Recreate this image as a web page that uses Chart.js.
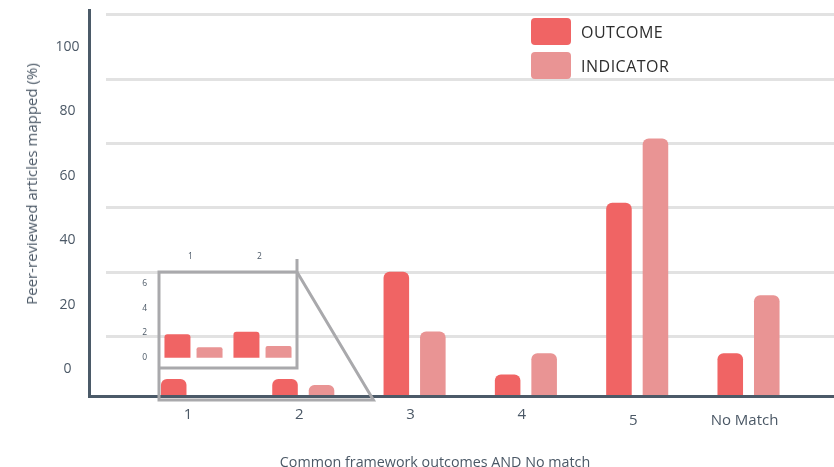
<!DOCTYPE html>
<html>
<head>
<meta charset="utf-8">
<script src="https://cdn.jsdelivr.net/npm/chart.js@4.4.1/dist/chart.umd.min.js"></script>
<style>
  html, body { margin: 0; padding: 0; background: #fff; }
  #wrap { position: relative; width: 834px; height: 467px; overflow: hidden; font-family: "Open Sans", sans-serif; }
  #main { position: absolute; left: 0; top: 0; }
  #inset { position: absolute; left: 125px; top: 240px; }
  .ytitle { position: absolute; left: 31px; top: 184px; transform: translate(-50%, -50%) rotate(-90deg);
            white-space: nowrap; font-size: 15px; color: #4b5866; }
  .xtitle { position: absolute; left: 435px; top: 461px; transform: translate(-50%, -50%);
            white-space: nowrap; font-size: 14.3px; color: #4b5866; }
  #legend { position: absolute; left: 531px; top: 18px; }
  .item { display: flex; align-items: center; height: 27px; margin-bottom: 7px; }
  .swatch { width: 40px; height: 27px; border-radius: 4px; margin-right: 10px; }
  .lbl { font-size: 16px; letter-spacing: 0.5px; color: #2d2d2d; }
</style>
</head>
<body>
<div id="wrap">
  <canvas id="main" width="834" height="467"></canvas>
  <canvas id="inset" width="180" height="135"></canvas>
  <div class="ytitle">Peer-reviewed articles mapped (%)</div>
  <div class="xtitle">Common framework outcomes AND No match</div>
  <div id="legend"></div>
</div>
<script>
// Framework categories and the share of articles mapped to each
const CATEGORIES = ['1', '2', '3', '4', '5', 'No Match'];
const OUTCOME    = [-3.1, -3.1, 30.2, -1.7, 51.6, 4.9];
const INDICATOR  = [null, -5.0, 11.6, 4.9, 71.6, 22.9];
const Y_TICKS    = [0, 20, 40, 60, 80, 100];

// Magnified view of categories 1 and 2
const INSET_CATEGORIES = ['1', '2'];
const INSET_OUTCOME    = [1.9, 2.1];
const INSET_INDICATOR  = [0.85, 0.95];
const INSET_TICKS      = [0, 2, 4, 6];

const AXIS_FLOOR = -8.4;
const C_OUTCOME = '#f06464';
const C_INDICATOR = '#e99494';
const AXIS_COLOR = '#4b5a68';
const GRID_COLOR = '#e2e2e2';
const TEXT_COLOR = '#4b5866';
const CALLOUT_COLOR = '#a9a9ac';

// inset frame in page coordinates
const INSET_BOX = { left: 159, top: 272, right: 297, bottom: 368 };

// axes sized exactly, without the extra room Chart.js keeps for edge labels
const fixedSize = (prop, size) => s => {
  s[prop] = size;
  s.paddingTop = 0; s.paddingBottom = 0; s.paddingLeft = 0; s.paddingRight = 0;
};

// leaves a small gap between the y axis line and the grid lines
const gridGap = {
  id: 'gridGap',
  beforeDatasetsDraw(chart) {
    const { ctx, chartArea: a } = chart;
    ctx.save();
    ctx.fillStyle = '#fff';
    ctx.fillRect(a.left + 1.5, a.top - 2, 15.5, a.bottom - a.top);
    ctx.restore();
  }
};

// frame around the magnified region and its pointer to the small bars
const callout = {
  id: 'callout',
  afterDraw(chart) {
    const { ctx, chartArea: a } = chart;
    const b = INSET_BOX;
    const outerBottom = a.bottom + 4;
    const tipX = chart.scales.x.getPixelForValue(1.63);
    ctx.save();
    ctx.strokeStyle = CALLOUT_COLOR;
    ctx.lineWidth = 3;
    ctx.beginPath();
    ctx.moveTo(b.right, b.top);
    ctx.lineTo(b.left, b.top);
    ctx.lineTo(b.left, outerBottom);
    ctx.lineTo(tipX, outerBottom);
    ctx.lineTo(b.right, b.top);
    ctx.stroke();
    ctx.beginPath();
    ctx.moveTo(b.left, b.bottom);
    ctx.lineTo(b.right, b.bottom);
    ctx.lineTo(b.right, b.top - 13);
    ctx.stroke();
    ctx.restore();
  }
};

const toPoints = arr => arr.map((v, i) => ({ x: i, y: v }));

const mainChart = new Chart(document.getElementById('main'), {
  type: 'bar',
  data: {
    datasets: [
      { label: 'OUTCOME', data: toPoints(OUTCOME), backgroundColor: C_OUTCOME,
        base: AXIS_FLOOR, borderRadius: 6, borderSkipped: 'start',
        categoryPercentage: 0.656, barPercentage: 0.7 },
      { label: 'INDICATOR', data: toPoints(INDICATOR), backgroundColor: C_INDICATOR,
        base: AXIS_FLOOR, borderRadius: 6, borderSkipped: 'start',
        categoryPercentage: 0.656, barPercentage: 0.7 }
    ]
  },
  options: {
    responsive: false,
    animation: false,
    devicePixelRatio: 1,
    layout: { padding: { top: 10, left: 0, right: 0, bottom: 0 } },
    plugins: { legend: { display: false }, tooltip: { enabled: false } },
    scales: {
      x: {
        type: 'linear',
        min: -0.925,
        max: 5.768,
        offset: false,
        afterBuildTicks: s => { s.ticks = CATEGORIES.map((_, i) => ({ value: i })); },
        afterFit: fixedSize('height', 71),
        grid: { display: false, drawTicks: false },
        border: { display: true, color: AXIS_COLOR, width: 3, z: 1 },
        ticks: {
          padding: 10,
          labelOffset: -4,
          maxRotation: 0,
          autoSkip: false,
          color: TEXT_COLOR,
          font: ctx => ({ family: 'Open Sans', size: 15, lineHeight: ctx.index >= 4 ? '30px' : '18px' }),
          callback: v => CATEGORIES[v]
        }
      },
      y: {
        type: 'linear',
        min: AXIS_FLOOR,
        max: 111.5,
        afterBuildTicks: s => { s.ticks = Y_TICKS.map(v => ({ value: v })); },
        afterFit: fixedSize('width', 89),
        grid: { offset: true, color: GRID_COLOR, lineWidth: 3, drawTicks: false },
        border: { display: true, color: AXIS_COLOR, width: 3, z: 1 },
        ticks: { padding: 9.5, crossAlign: 'center', color: TEXT_COLOR,
                 font: { family: 'Open Sans', size: 14 } }
      }
    }
  },
  plugins: [gridGap, callout]
});

new Chart(document.getElementById('inset'), {
  type: 'bar',
  data: {
    labels: INSET_CATEGORIES,
    datasets: [
      { label: 'OUTCOME', data: INSET_OUTCOME, backgroundColor: C_OUTCOME,
        borderRadius: 3, borderSkipped: 'start', categoryPercentage: 0.93, barPercentage: 0.81 },
      { label: 'INDICATOR', data: INSET_INDICATOR, backgroundColor: C_INDICATOR,
        borderRadius: 2, borderSkipped: 'start', categoryPercentage: 0.93, barPercentage: 0.81 }
    ]
  },
  options: {
    responsive: false,
    animation: false,
    devicePixelRatio: 1,
    layout: { padding: { top: 0, left: 0, right: 8, bottom: 7 } },
    plugins: { legend: { display: false }, tooltip: { enabled: false } },
    scales: {
      x: {
        position: 'top',
        afterFit: fixedSize('height', 32),
        grid: { display: false, drawTicks: false },
        border: { display: false },
        ticks: { padding: 10, labelOffset: -3, color: TEXT_COLOR, font: { family: 'Open Sans', size: 8.5 } }
      },
      y: {
        min: -0.83,
        max: 6.91,
        afterBuildTicks: s => { s.ticks = INSET_TICKS.map(v => ({ value: v })); },
        afterFit: fixedSize('width', 34),
        grid: { display: false, drawTicks: false },
        border: { display: false },
        ticks: { padding: 12, color: TEXT_COLOR, font: { family: 'Open Sans', size: 8.5 } }
      }
    }
  }
});

// legend built from the main chart's datasets
const legendEl = document.getElementById('legend');
mainChart.data.datasets.forEach(ds => {
  const item = document.createElement('div');
  item.className = 'item';
  const sw = document.createElement('div');
  sw.className = 'swatch';
  sw.style.background = ds.backgroundColor;
  const lb = document.createElement('span');
  lb.className = 'lbl';
  lb.textContent = ds.label;
  item.appendChild(sw);
  item.appendChild(lb);
  legendEl.appendChild(item);
});
</script>
</body>
</html>
